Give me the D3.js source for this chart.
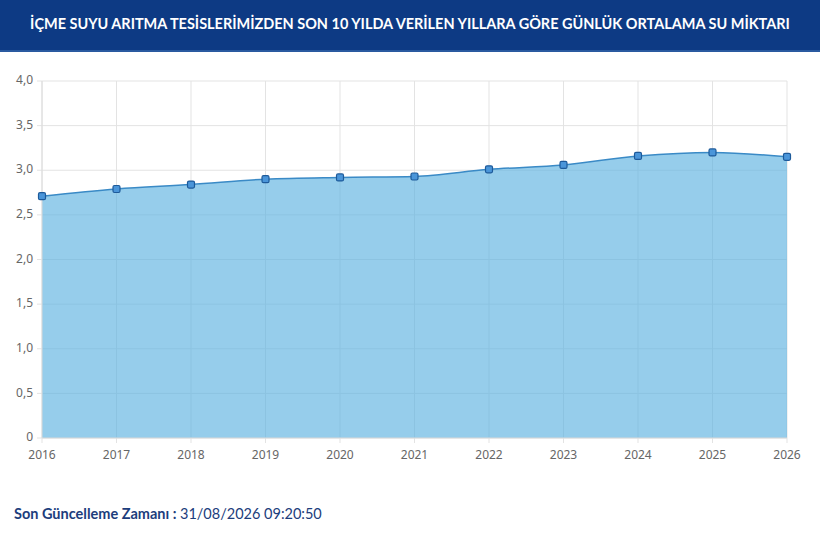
<!DOCTYPE html>
<html><head><meta charset="utf-8">
<script src="https://cdn.jsdelivr.net/npm/d3@7"></script>
<style>
html,body{margin:0;padding:0;background:#fff;}
svg{display:block;}
</style></head>
<body>
<svg id="c" width="820" height="537"></svg>
<script>
const titleText = "İÇME SUYU ARITMA TESİSLERİMİZDEN SON 10 YILDA VERİLEN YILLARA GÖRE GÜNLÜK ORTALAMA SU MİKTARI";
const years = [2016, 2017, 2018, 2019, 2020, 2021, 2022, 2023, 2024, 2025, 2026];
const values = [2.71, 2.79, 2.84, 2.90, 2.92, 2.93, 3.01, 3.06, 3.16, 3.20, 3.15];
const yTicks = [0, 0.5, 1.0, 1.5, 2.0, 2.5, 3.0, 3.5, 4.0];
const footerLabel = "Son Güncelleme Zamanı :";
const footerValue = "31/08/2026 09:20:50";

const svg = d3.select("#c");
const W = 820, H = 537;

// header
svg.append("rect").attr("x",0).attr("y",0).attr("width",W).attr("height",52).attr("fill","#0d3a84");
svg.append("rect").attr("x",0).attr("y",50).attr("width",W).attr("height",2).attr("fill","#2a5aa0");
const title = svg.append("text").attr("x",W/2).attr("y",25).attr("text-anchor","middle")
  .attr("dominant-baseline","middle")
  .attr("fill","#fff").attr("font-family","Lato, 'Noto Sans', sans-serif").attr("font-weight",700)
  .attr("font-size",15).text(titleText);
const tw = title.node().getComputedTextLength();
if (tw > 0) title.attr("font-size", Math.min(16, 15 * 760 / tw));

const m = {l:42, r:787, t:81, b:438};
const x = d3.scalePoint().domain(years).range([m.l, m.r]);
const y = d3.scaleLinear().domain([0,4]).range([m.b, m.t]);

const g = svg.append("g");
// grid
g.selectAll(".hg").data(yTicks).join("line")
  .attr("x1", m.l-5).attr("x2", m.r).attr("y1", d=>y(d)).attr("y2", d=>y(d))
  .attr("stroke","#e3e3e3").attr("stroke-width",1);
g.selectAll(".vg").data(years).join("line")
  .attr("x1", d=>x(d)).attr("x2", d=>x(d)).attr("y1", m.t).attr("y2", m.b+5)
  .attr("stroke","#e3e3e3").attr("stroke-width",1);

// area
const pts = years.map((yr,i)=>({yr, v: values[i]}));
const area = d3.area().x(d=>x(d.yr)).y0(y(0)).y1(d=>y(d.v)).curve(d3.curveMonotoneX);
const line = d3.line().x(d=>x(d.yr)).y(d=>y(d.v)).curve(d3.curveMonotoneX);
g.append("path").datum(pts).attr("d", area).attr("fill","rgba(93,178,225,0.65)");
g.append("path").datum(pts).attr("d", line).attr("fill","none").attr("stroke","#3a8ac6").attr("stroke-width",1.5);

// axis lines
g.append("line").attr("x1",m.l).attr("x2",m.l).attr("y1",m.t).attr("y2",m.b).attr("stroke","#dcdcdc");
g.append("line").attr("x1",m.l).attr("x2",m.r).attr("y1",m.b).attr("y2",m.b).attr("stroke","#dcdcdc");

// points
g.selectAll(".pt").data(pts).join("rect")
  .attr("x", d=>x(d.yr)-3.5).attr("y", d=>y(d.v)-3.5).attr("width",7).attr("height",7)
  .attr("rx",1.5).attr("fill","#4a95d9").attr("stroke","#1d5a9a").attr("stroke-width",1.2);

// labels
const fmt = d => d===0 ? "0" : d3.format(".1f")(d).replace(".", ",");
g.selectAll(".yl").data(yTicks).join("text")
  .attr("x", m.l-9).attr("y", d=>y(d)).attr("text-anchor","end").attr("dominant-baseline","middle")
  .attr("font-family","'Noto Sans', sans-serif").attr("font-size",12).attr("fill","#666")
  .text(fmt);
g.selectAll(".xl").data(years).join("text")
  .attr("x", d=>x(d)).attr("y", 456).attr("text-anchor","middle").attr("dominant-baseline","middle")
  .attr("font-family","'Noto Sans', sans-serif").attr("font-size",12).attr("fill","#666")
  .text(d=>d);

// footer
const ft = svg.append("text").attr("x",14).attr("y",515).attr("dominant-baseline","middle")
  .attr("font-family","Lato, 'Noto Sans', sans-serif").attr("font-size",14.5);
ft.append("tspan").attr("font-weight",700).attr("fill","#1c3d7c").text(footerLabel + " ");
ft.append("tspan").attr("font-weight",400).attr("fill","#1c3d7c").text(footerValue);
</script>
</body></html>
